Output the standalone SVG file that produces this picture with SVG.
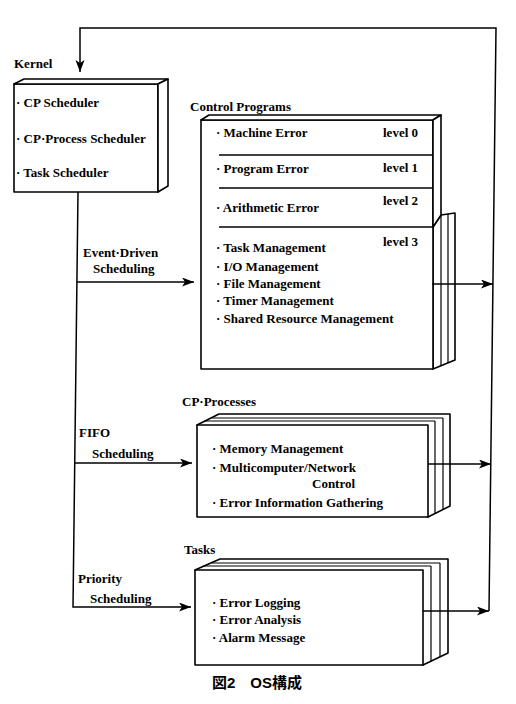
<svg xmlns="http://www.w3.org/2000/svg" width="516" height="704" viewBox="0 0 516 704">
<style>
.t{font-family:"Liberation Serif","DejaVu Serif",serif;font-weight:bold;font-size:13px;fill:#000}
.cap{font-family:"Liberation Sans","Noto Sans CJK JP",sans-serif;font-weight:bold;font-size:15px;fill:#000}
.box{fill:#fff;stroke:#000;stroke-width:1.6;stroke-linejoin:round}
.ln{fill:none;stroke:#000;stroke-width:1.5}
.pg{fill:none;stroke:#000;stroke-width:1.2}
</style>
<defs>
<marker id="ah" markerUnits="userSpaceOnUse" markerWidth="13" markerHeight="10" refX="12" refY="4.5" orient="auto">
<path d="M0,0 L12,4.5 L0,9 L3,4.5 Z" fill="#000"/>
</marker>
</defs>
<rect width="516" height="704" fill="#fff"/>

<g id="connectors">
<path class="ln" d="M489,611 L496,28 L80,28 L80,72" marker-end="url(#ah)"/>
<path class="ln" d="M78,192 L73,607 L191,607" marker-end="url(#ah)"/>
<path class="ln" d="M77,282 L194,282" marker-end="url(#ah)"/>
<path class="ln" d="M75,463 L192,463" marker-end="url(#ah)"/>
</g>

<g id="kernel">
<text class="t" x="14" y="68">Kernel</text>
<rect class="box" x="14" y="84" width="144" height="108"/>
<polygon class="box" points="14,84 24,79 168,79 158,84"/>
<polygon class="box" points="158,84 168,79 168,186 158,192"/>
<text class="t" x="16" y="107">· CP Scheduler</text>
<text class="t" x="16" y="143">· CP·Process Scheduler</text>
<text class="t" x="16" y="177">· Task Scheduler</text>
</g>

<g id="control-programs">
<text class="t" x="190" y="111">Control Programs</text>
<polygon class="box" points="433,227 441,215 455,213 455,360 433,369"/>
<line class="pg" x1="441" y1="215" x2="441" y2="366"/>
<line class="pg" x1="448" y1="214" x2="448" y2="363"/>
<rect class="box" x="201" y="120" width="232" height="249"/>
<polygon class="box" points="201,120 209,115 441,115 433,120"/>
<polygon class="box" points="433,120 441,115 441,215 433,227"/>
<line class="ln" x1="219" y1="155" x2="433" y2="155"/>
<line class="ln" x1="219" y1="188" x2="433" y2="188"/>
<line class="ln" x1="219" y1="227" x2="433" y2="227"/>
<text class="t" x="216" y="137">· Machine Error</text>
<text class="t" x="383" y="137">level 0</text>
<text class="t" x="216" y="173">· Program Error</text>
<text class="t" x="383" y="172">level 1</text>
<text class="t" x="216" y="212">· Arithmetic Error</text>
<text class="t" x="383" y="205">level 2</text>
<text class="t" x="383" y="246">level 3</text>
<text class="t" x="216" y="252">· Task Management</text>
<text class="t" x="216" y="271">· I/O Management</text>
<text class="t" x="216" y="288">· File Management</text>
<text class="t" x="216" y="305">· Timer Management</text>
<text class="t" x="216" y="323">· Shared Resource Management</text>
</g>

<g id="cp-processes">
<text class="t" x="182" y="406">CP·Processes</text>
<polygon class="box" points="197,425 219,414 450,414 450,506 428,517"/>
<line class="pg" x1="204" y1="421" x2="435" y2="421"/>
<line class="pg" x1="212" y1="418" x2="443" y2="418"/>
<line class="pg" x1="435" y1="421" x2="435" y2="513"/>
<line class="pg" x1="443" y1="418" x2="443" y2="510"/>
<rect class="box" x="197" y="425" width="231" height="92"/>
<text class="t" x="212" y="453">· Memory Management</text>
<text class="t" x="212" y="472">· Multicomputer/Network</text>
<text class="t" x="312" y="488">Control</text>
<text class="t" x="212" y="507">· Error Information Gathering</text>
</g>

<g id="tasks">
<text class="t" x="184" y="554">Tasks</text>
<polygon class="box" points="195,570 220,559 448,559 448,653 423,665"/>
<line class="pg" x1="203" y1="566" x2="431" y2="566"/>
<line class="pg" x1="212" y1="563" x2="440" y2="563"/>
<line class="pg" x1="431" y1="566" x2="431" y2="661"/>
<line class="pg" x1="440" y1="563" x2="440" y2="657"/>
<rect class="box" x="195" y="570" width="228" height="95"/>
<text class="t" x="212" y="607">· Error Logging</text>
<text class="t" x="212" y="624">· Error Analysis</text>
<text class="t" x="212" y="642">· Alarm Message</text>
</g>

<g id="out-connectors">
<path class="ln" d="M432,284 L493,284" marker-end="url(#ah)"/>
<path class="ln" d="M428,464 L491,464" marker-end="url(#ah)"/>
<path class="ln" d="M423,611 L489,611" marker-end="url(#ah)"/>
</g>

<g id="labels">
<text class="t" x="83" y="257">Event·Driven</text>
<text class="t" x="93" y="273">Scheduling</text>
<text class="t" x="79" y="437">FIFO</text>
<text class="t" x="92" y="458">Scheduling</text>
<text class="t" x="78" y="583">Priority</text>
<text class="t" x="90" y="603">Scheduling</text>
</g>

<text class="cap" x="212" y="688">図2　OS構成</text>
</svg>
